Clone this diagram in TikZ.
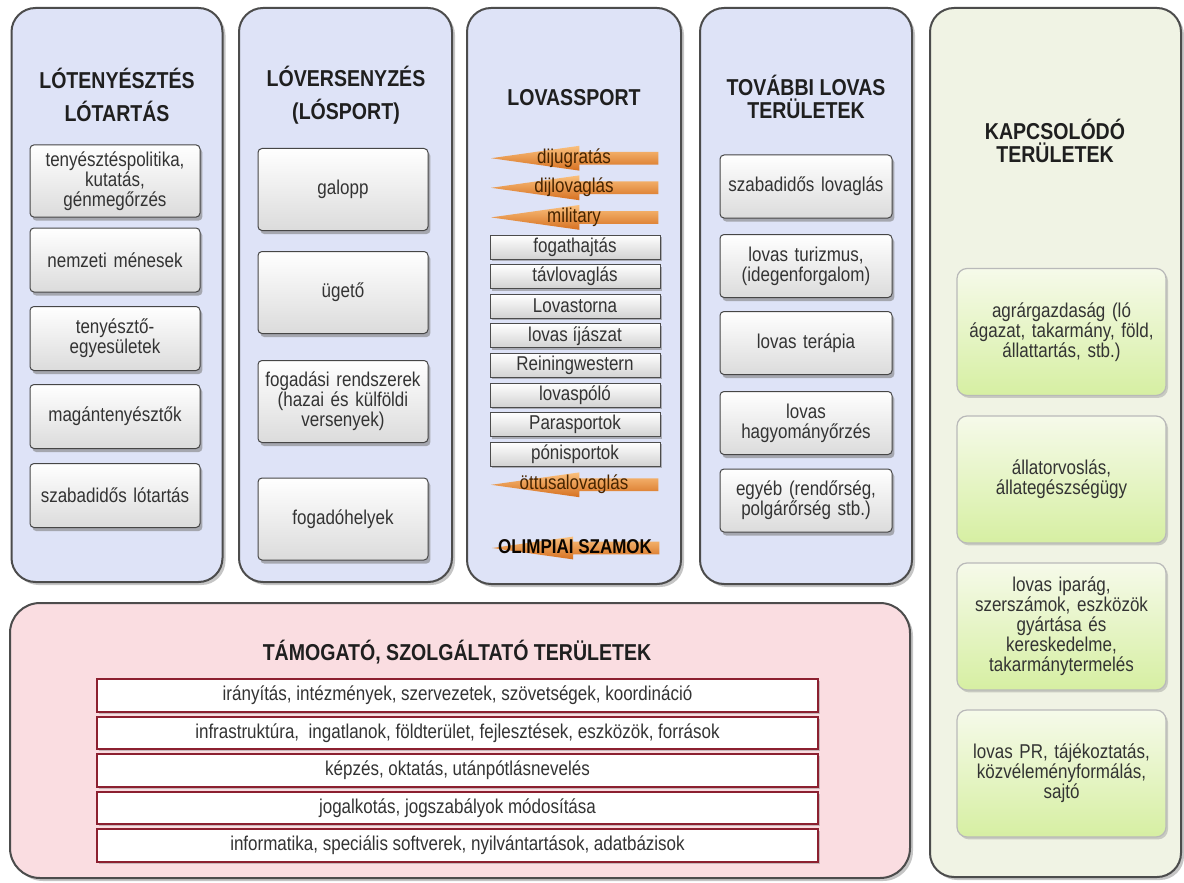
\documentclass[tikz,border=0pt]{standalone}
\usepackage{fontspec}
\setmainfont[FakeStretch=0.85]{Liberation Sans}
\usepackage{xcolor}
\usetikzlibrary{shapes.arrows,shadows}

\definecolor{paneblue}{RGB}{222,227,247}
\definecolor{panepink}{RGB}{250,221,225}
\definecolor{panegreen}{RGB}{240,243,228}
\definecolor{greentop}{RGB}{246,250,234}
\definecolor{greenbot}{RGB}{214,239,162}
\definecolor{rowred}{RGB}{140,32,48}
\definecolor{arrtop}{RGB}{250,192,125}
\definecolor{arrbot}{RGB}{214,112,32}
\definecolor{arrtext}{RGB}{70,36,0}

% text sitting on the shaft of an orange arrow
\newcommand{\olabel}[1]{\makebox[60.5pt][l]{\hspace*{18.5pt}\makebox[0pt]{#1}}}

\begin{document}
\begin{tikzpicture}[x=0.5pt, y=-0.5pt,
    panel/.style={draw=gray!60!black, line width=1pt, rounded corners=12pt,
        drop shadow={shadow xshift=1.5pt, shadow yshift=-1.5pt, opacity=0.45}},
    title/.style={font=\bfseries\fontsize{11.5}{16.5}\selectfont, align=center, text=black!88},
    subtitle/.style={font=\bfseries\fontsize{11.5}{11.5}\selectfont, align=center, text=black!88},
    box/.style={draw=gray!55!black, line width=0.5pt, rounded corners=2pt,
        top color=white, bottom color=gray!28, inner xsep=1.5pt,
        drop shadow={shadow xshift=1.2pt, shadow yshift=-1.8pt, opacity=0.6},
        minimum width=85pt, text width=82pt, align=center,
        font=\fontsize{10}{10}\selectfont, text=black!80},
    sport/.style={draw=gray!60!black, line width=0.5pt, top color=white, bottom color=gray!35,
        drop shadow={shadow xshift=1.2pt, shadow yshift=-1pt, opacity=0.55},
        minimum width=85pt, minimum height=12pt, inner sep=0pt,
        font=\fontsize{10}{10}\selectfont, text=black!80},
    olarrow/.style={single arrow, shape border rotate=180, top color=arrtop, bottom color=arrbot,
        single arrow head extend=3pt, single arrow tip angle=16,
        text height=5pt, text depth=0pt, inner ysep=0.5pt, inner xsep=0pt,
        font=\fontsize{10}{10}\selectfont, text=arrtext},
    row/.style={draw=rowred, line width=1pt, fill=white, minimum width=360.5pt, minimum height=16pt,
        drop shadow={shadow xshift=1pt, shadow yshift=-1pt, opacity=0.4},
        font=\fontsize{10}{10}\selectfont, text=black!80},
    gbox/.style={draw=gray!55, line width=0.6pt, rounded corners=5pt, top color=greentop, bottom color=greenbot,
        drop shadow={shadow xshift=1pt, shadow yshift=-1.2pt, opacity=0.35},
        minimum width=104.5pt, minimum height=63.5pt, text width=102pt, inner xsep=1pt, align=center,
        font=\fontsize{10}{10}\selectfont, text=black!80}]

        \path[use as bounding box, fill=white] (0,0) rectangle (1184,883);

        % panels
        \node[panel, fill=paneblue, minimum width=105.5pt, minimum height=287pt] (P1) at (117,295) {};
        \node[panel, fill=paneblue, minimum width=106.5pt, minimum height=287pt] (P2) at (345.5,295) {};
        \node[panel, fill=paneblue, minimum width=107pt, minimum height=288pt] (P3) at (574,296) {};
        \node[panel, fill=paneblue, minimum width=106pt, minimum height=288pt] (P4) at (806,296) {};
        \node[panel, fill=panegreen, minimum width=125.5pt, minimum height=434.5pt] (P5) at (1055.5,442.5) {};
        \node[panel, fill=panepink, rounded corners=15pt, minimum width=450pt, minimum height=137.5pt] (P6) at (460,740.5) {};

        % lotenyesztes
        \node[title] (T1) at (117,95) {LÓTENYÉSZTÉS\\LÓTARTÁS};
        \node[box, minimum height=32pt] (a1) at (115,181) {tenyésztéspolitika,\\kutatás,\\génmegőrzés};
        \node[box, minimum height=32pt] (a2) at (115,260) {nemzeti ménesek};
        \node[box, minimum height=32pt] (a3) at (115,338.5) {tenyésztő-\\egyesületek};
        \node[box, minimum height=32pt] (a4) at (115,416.5) {magántenyésztők};
        \node[box, minimum height=32pt] (a5) at (115,495.5) {szabadidős lótartás};

        % loversenyzes
        \node[title] (T2) at (346,95) {LÓVERSENYZÉS\\(LÓSPORT)};
        \node[box, minimum height=41pt] (b1) at (343,189.5) {galopp};
        \node[box, minimum height=41pt] (b2) at (343,292.5) {ügető};
        \node[box, minimum height=41pt] (b3) at (343,401.5) {fogadási rendszerek\\(hazai és külföldi\\versenyek)};
        \node[box, minimum height=41pt] (b4) at (343,519) {fogadóhelyek};

        % lovassport
        \node[subtitle] (T3) at (574,98) {LOVASSPORT};
        \node[olarrow] (c1) at (597.5,158.2) {\olabel{dijugratás}};
        \node[olarrow] (c2) at (597.5,187.8) {\olabel{dijlovaglás}};
        \node[olarrow] (c3) at (597.5,217.4) {\olabel{military}};
        \node[sport] (c4) at (575,247) {fogathajtás};
        \node[sport] (c5) at (575,276.6) {távlovaglás};
        \node[sport] (c6) at (575,306.2) {Lovastorna};
        \node[sport] (c7) at (575,335.8) {lovas íjászat};
        \node[sport] (c8) at (575,365.4) {Reiningwestern};
        \node[sport] (c9) at (575,395) {lovaspóló};
        \node[sport] (c10) at (575,424.6) {Parasportok};
        \node[sport] (c11) at (575,454.2) {pónisportok};
        \node[olarrow] (c12) at (597.5,484.8) {\olabel{öttusalovaglás}};
        \node[olarrow, font=\bfseries\fontsize{10}{10}\selectfont, text=black!85!arrtext,
              single arrow head extend=2.5pt] (c13) at (598.5,548) {\olabel{OLIMPIAI SZAMOK}};

        % tovabbi lovas teruletek
        \node[subtitle] (T4) at (806,96.5) {TOVÁBBI LOVAS\\TERÜLETEK};
        \node[box, minimum width=86pt, minimum height=31.5pt] (d1) at (806,186.5) {szabadidős lovaglás};
        \node[box, minimum width=86pt, minimum height=31.5pt] (d2) at (806,266) {lovas turizmus,\\(idegenforgalom)};
        \node[box, minimum width=86pt, minimum height=31.5pt] (d3) at (806,343) {lovas terápia};
        \node[box, minimum width=86pt, minimum height=31.5pt] (d4) at (806,423) {lovas\\hagyományőrzés};
        \node[box, minimum width=86pt, minimum height=31.5pt] (d5) at (806,500.5) {egyéb (rendőrség,\\polgárőrség stb.)};

        % kapcsolodo teruletek
        \node[subtitle] (T5) at (1055,141) {KAPCSOLÓDÓ\\TERÜLETEK};
        \node[gbox] (e1) at (1061.5,332) {agrárgazdaság (ló\\ágazat, takarmány, föld,\\állattartás, stb.)};
        \node[gbox] (e2) at (1061.5,479.5) {állatorvoslás,\\állategészségügy};
        \node[gbox] (e3) at (1061.5,626.5) {lovas iparág,\\szerszámok, eszközök\\gyártása és\\kereskedelme,\\takarmánytermelés};
        \node[gbox] (e4) at (1061.5,773.5) {lovas PR, tájékoztatás,\\közvéleményformálás,\\sajtó};

        % tamogato, szolgaltato teruletek
        \node[title] (T6) at (457,652) {TÁMOGATÓ, SZOLGÁLTATÓ TERÜLETEK};
        \node[row] (f1) at (457.5,695.5) {irányítás, intézmények, szervezetek, szövetségek, koordináció};
        \node[row] (f2) at (457.5,733) {infrastruktúra,\ \ ingatlanok, földterület, fejlesztések, eszközök, források};
        \node[row] (f3) at (457.5,770.5) {képzés, oktatás, utánpótlásnevelés};
        \node[row] (f4) at (457.5,808) {jogalkotás, jogszabályok módosítása};
        \node[row] (f5) at (457.5,845.5) {informatika, speciális softverek, nyilvántartások, adatbázisok};
    \end{tikzpicture}
\end{document}
